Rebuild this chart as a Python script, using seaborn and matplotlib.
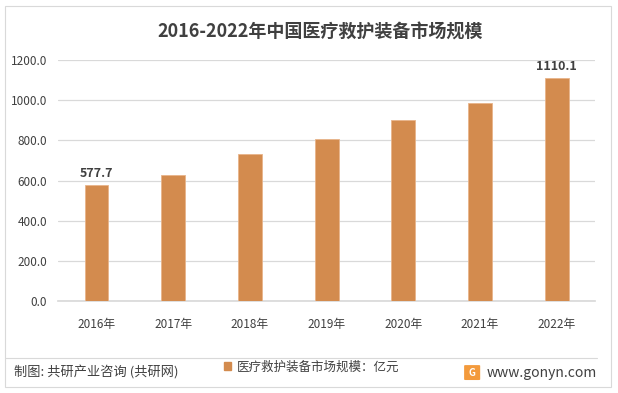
import matplotlib
matplotlib.use("Agg")
import matplotlib.pyplot as plt
import seaborn as sns
import pandas as pd
from matplotlib.patches import Rectangle, FancyBboxPatch
from matplotlib.lines import Line2D

years = ["2016年", "2017年", "2018年", "2019年", "2020年", "2021年", "2022年"]
values = [577.7, 627.0, 731.0, 806.0, 900.0, 984.0, 1110.1]
labels_shown = {0: "577.7", 6: "1110.1"}
yticks = [0, 200, 400, 600, 800, 1000, 1200]
title = "2016-2022年中国医疗救护装备市场规模"
series_name = "医疗救护装备市场规模：亿元"
source = "制图: 共研产业咨询 (共研网)"
site = "www.gonyn.com"

sns.set_theme(style="white")
plt.rcParams['font.family'] = ['Noto Sans CJK SC', 'DejaVu Sans']

bar_color = "#D38B4E"
df = pd.DataFrame({"year": years, "value": values})

fig = plt.figure(figsize=(6.18, 3.93), dpi=100)
ax = fig.add_axes([0.094, 0.234, 0.869, 0.613])
sns.barplot(data=df, x="year", y="value", color=bar_color, width=0.31,
            saturation=1, ax=ax, edgecolor="#E8B48A", linewidth=0.6, zorder=3)

ax.set_ylim(0, 1200)
ax.set_yticks(yticks)
ax.set_yticklabels([f"{v:.1f}" for v in yticks], fontsize=8.5, color="#404040")
ax.tick_params(axis='x', labelsize=8.5, labelcolor="#404040", length=0, pad=12)
ax.tick_params(axis='y', length=0, pad=8)
ax.set_xlabel("")
ax.set_ylabel("")
ax.grid(axis='y', color="#D9D9D9", linewidth=0.9, zorder=0)
for s in ["top", "right", "left"]:
    ax.spines[s].set_visible(False)
ax.spines["bottom"].set_color("#D9D9D9")
ax.set_xlim(-0.5, len(years) - 0.5)

for i, txt in labels_shown.items():
    ax.text(i, values[i] + 25, txt, ha="center", va="bottom", fontsize=9,
            color="#404040", fontweight="bold")

fig.text(0.518, 0.919, title, ha="center", va="center", fontsize=13,
         fontweight="bold", color="#404040")

# legend
fig.legend(handles=[Rectangle((0, 0), 1, 1, color=bar_color)], labels=[series_name],
           loc="center", bbox_to_anchor=(0.504, 0.066), frameon=False,
           fontsize=9, handlelength=0.6, handleheight=0.6, handletextpad=0.4,
           labelcolor="#404040")

# footer separator and border
fig.add_artist(Line2D([0.008, 0.966], [0.089, 0.089], color="#D9D9D9", lw=0.8,
                      transform=fig.transFigure))
fig.add_artist(Rectangle((0.008, 0.015), 0.981, 0.969, fill=False,
                         edgecolor="#D9D9D9", lw=0.8, transform=fig.transFigure))

fig.text(0.022, 0.051, source, ha="left", va="center", fontsize=9.5, color="#404040")
fig.add_artist(FancyBboxPatch((0.753, 0.035), 0.022, 0.034,
                              boxstyle="round,pad=0.002", fc="#F39A3C", ec="none",
                              transform=fig.transFigure))
fig.text(0.764, 0.052, "G", ha="center", va="center", fontsize=7,
         fontweight="bold", color="white")
fig.text(0.788, 0.051, site, ha="left", va="center", fontsize=10, color="#404040")

fig.savefig("out.png", dpi=100)
